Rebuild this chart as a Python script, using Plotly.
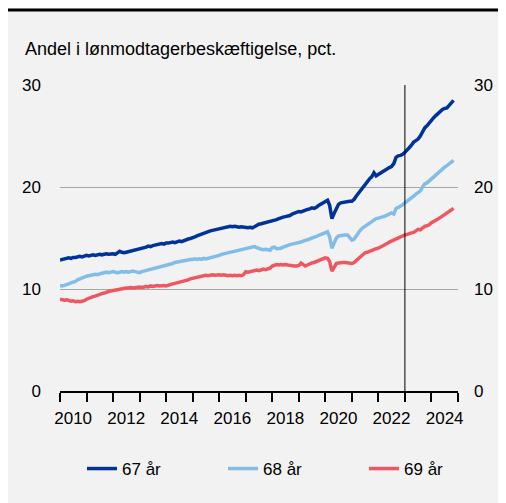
import pandas as pd
import plotly.graph_objects as go

PLOT_CONFIG = {
    "size": {"width": 498, "height": 495},
    "font": "Liberation Sans, Arial, sans-serif",
    "bg": "#f2f2f2",
}

# monthly shares, jan 2010 - nov 2024
age_67 = [
    12.85, 12.9, 12.95, 13.0, 13.05, 13.0, 13.1, 13.1, 13.15, 13.2, 13.15, 13.25,
    13.3, 13.25, 13.3, 13.35, 13.3, 13.35, 13.4, 13.35, 13.4, 13.45, 13.4, 13.45,
    13.45, 13.4, 13.5, 13.7, 13.6, 13.55, 13.6, 13.65, 13.7, 13.75, 13.8, 13.85,
    13.9, 13.95, 14.0, 14.1, 14.2, 14.15, 14.25, 14.3, 14.35, 14.4, 14.45, 14.4,
    14.5, 14.5, 14.55, 14.6, 14.55, 14.65, 14.7, 14.65, 14.75, 14.85, 14.9, 14.95,
    15.0, 15.1, 15.2, 15.3, 15.35, 15.45, 15.5, 15.6, 15.7, 15.75, 15.8, 15.85,
    15.9, 15.95, 16.0, 16.05, 16.1, 16.15, 16.1, 16.15, 16.1, 16.05, 16.1, 16.05,
    16.05, 16.0, 16.05, 16.0, 16.1, 16.25, 16.35, 16.4, 16.45, 16.55, 16.6, 16.65,
    16.7, 16.75, 16.8, 16.9, 17.0, 17.05, 17.1, 17.15, 17.2, 17.35, 17.45, 17.5,
    17.6, 17.55, 17.65, 17.7, 17.8, 17.85, 17.95, 17.9, 18.0, 18.2, 18.35, 18.5,
    18.65, 18.7, 18.2, 16.9, 17.4, 17.9, 18.3, 18.45, 18.5, 18.55, 18.6, 18.6,
    18.6, 18.8, 19.1, 19.4, 19.7, 20.0, 20.3, 20.6, 20.8, 21.0, 21.4, 21.1,
    21.25, 21.4, 21.5, 21.6, 21.75, 21.9, 22.0, 22.3, 22.9, 23.05, 23.1, 23.2,
    23.4, 23.6, 23.85, 24.1, 24.4, 24.55, 24.7, 25.0, 25.5, 25.8, 26.0, 26.3,
    26.6, 26.8, 27.0, 27.2, 27.45, 27.6, 27.7, 27.75, 28.0, 28.3, 28.5,
]
age_68 = [
    10.35, 10.3, 10.35, 10.4, 10.5, 10.6, 10.65, 10.75, 10.9, 11.0, 11.1, 11.2,
    11.25, 11.3, 11.35, 11.4, 11.45, 11.4, 11.5, 11.55, 11.6, 11.65, 11.6, 11.65,
    11.7, 11.65, 11.6, 11.65, 11.7, 11.65, 11.7, 11.65, 11.7, 11.75, 11.7, 11.65,
    11.6, 11.7, 11.75, 11.8, 11.85, 11.9, 11.95, 12.0, 12.1, 12.15, 12.2, 12.25,
    12.3, 12.35, 12.45, 12.5, 12.6, 12.65, 12.7, 12.75, 12.8, 12.85, 12.9, 12.9,
    12.9, 12.95, 12.9, 12.95, 12.9, 13.0, 12.95, 13.0, 13.05, 13.1, 13.15, 13.25,
    13.3, 13.4, 13.45, 13.5, 13.55, 13.6, 13.65, 13.7, 13.75, 13.8, 13.85, 13.9,
    13.95, 14.0, 14.05, 14.1, 14.15, 14.05, 13.95, 13.9, 13.85, 13.9, 13.85, 13.8,
    14.05, 14.1, 13.95, 13.95, 14.0, 14.1, 14.2, 14.25, 14.35, 14.4, 14.45, 14.5,
    14.5, 14.6, 14.7, 14.75, 14.85, 14.9, 15.0, 15.05, 15.15, 15.25, 15.35, 15.45,
    15.55, 15.6, 15.1, 14.0, 14.5, 15.0, 15.2, 15.25, 15.3, 15.3, 15.3, 15.05,
    14.8, 14.9, 15.2, 15.5, 15.8, 16.0, 16.15, 16.3, 16.5, 16.65, 16.8, 16.9,
    16.95, 17.0, 17.05, 17.15, 17.25, 17.35, 17.45, 17.35, 17.9, 18.0, 18.1, 18.25,
    18.45, 18.6, 18.75, 18.9, 19.1, 19.3, 19.5, 19.6, 20.0, 20.3, 20.4, 20.6,
    20.8, 21.0, 21.2, 21.4, 21.6, 21.75, 21.95, 22.1, 22.25, 22.4, 22.6,
]
age_69 = [
    9.0, 8.95, 8.9, 8.95, 8.85, 8.8, 8.85, 8.75, 8.8, 8.75, 8.8, 8.85,
    9.0, 9.1, 9.2, 9.25, 9.3, 9.4, 9.5, 9.55, 9.6, 9.7, 9.75, 9.8,
    9.85, 9.9, 9.95, 10.0, 10.05, 10.05, 10.1, 10.1, 10.15, 10.1, 10.15, 10.2,
    10.2, 10.15, 10.2, 10.25, 10.2, 10.3, 10.25, 10.3, 10.35, 10.3, 10.35, 10.35,
    10.3, 10.4, 10.45, 10.5, 10.55, 10.6, 10.7, 10.75, 10.8, 10.85, 10.9, 11.0,
    11.05, 11.1, 11.2, 11.25, 11.3, 11.3, 11.35, 11.3, 11.35, 11.4, 11.35, 11.4,
    11.4, 11.35, 11.4, 11.35, 11.3, 11.35, 11.3, 11.35, 11.3, 11.35, 11.3, 11.4,
    11.7, 11.65, 11.7, 11.75, 11.8, 11.85, 11.8, 11.9, 11.95, 11.9, 12.0, 12.05,
    12.25, 12.3, 12.4, 12.35, 12.4, 12.35, 12.4, 12.35, 12.3, 12.3, 12.25, 12.25,
    12.3, 12.55, 12.4, 12.25, 12.35, 12.5, 12.55, 12.6, 12.7, 12.8, 12.9, 12.95,
    13.05, 13.0, 12.7, 11.75, 12.2, 12.5, 12.55, 12.6, 12.6, 12.6, 12.55, 12.5,
    12.5, 12.6, 12.8, 13.0, 13.2, 13.4, 13.55, 13.6, 13.7, 13.8, 13.85, 13.95,
    14.0, 14.1, 14.2, 14.35, 14.45, 14.6, 14.7, 14.8, 14.95, 15.05, 15.15, 15.25,
    15.3, 15.35, 15.45, 15.5, 15.55, 15.7, 15.85, 15.8, 16.0, 16.15, 16.2, 16.3,
    16.5, 16.6, 16.7, 16.85, 17.0, 17.15, 17.3, 17.45, 17.6, 17.75, 17.9,
]
series_names = ["67 år", "68 år", "69 år"]
series_colors = ["#00339a", "#82bde8", "#ef5760"]
year_labels = ["2010", "2012", "2014", "2016", "2018", "2020", "2022", "2024"]
y_ticks = [0, 10, 20, 30]
marker_date = "2023-01-01"
title_text = "Andel i lønmodtagerbeskæftigelse, pct."

dates = pd.date_range("2010-01-01", periods=len(age_67), freq="MS")

# plot area in figure pixels (page adds an 8px body margin)
W = PLOT_CONFIG["size"]["width"]
H = PLOT_CONFIG["size"]["height"]
L, R, T, B = 52, 48, 77, 112
PW = W - L - R
PH = H - T - B
LEGEND_X = [74, 215, 356]  # left edge of each legend entry
LEGEND_Y = 461


def px_x(p):
    return (p - L) / PW


def px_y(p):
    return (T + PH - p) / PH


axis_font = {"family": PLOT_CONFIG["font"], "size": 17, "color": "#000000"}

fig = go.Figure()
legend_layout = {}
for i, (name, values, color) in enumerate(zip(series_names, [age_67, age_68, age_69], series_colors)):
    legend_id = "legend" if i == 0 else f"legend{i + 1}"
    fig.add_trace(
        go.Scatter(x=dates, y=values, mode="lines", name=name, legend=legend_id,
                   line={"color": color, "width": 3.5})
    )
    # one legend per series so the row never wraps
    legend_layout[legend_id] = {
        "orientation": "h",
        "x": px_x(LEGEND_X[i]),
        "xanchor": "left",
        "y": px_y(LEGEND_Y),
        "yanchor": "middle",
        "bgcolor": "rgba(0,0,0,0)",
        "font": axis_font,
    }

# dummy trace so the right axis is drawn
fig.add_trace(
    go.Scatter(x=[dates[0]], y=[0], yaxis="y2", mode="markers", marker={"opacity": 0},
               showlegend=False, hoverinfo="skip")
)

fig.update_layout(
    width=W,
    height=H,
    margin={"l": L, "r": R, "t": T, "b": B, "autoexpand": False},
    paper_bgcolor=PLOT_CONFIG["bg"],
    plot_bgcolor=PLOT_CONFIG["bg"],
    font=axis_font,
    xaxis={
        "type": "date",
        "range": ["2010-01-01", "2025-01-01"],
        "tickvals": [f"{y}-07-01" for y in year_labels],
        "ticktext": year_labels,
        "ticks": "",
        "ticklabelstandoff": 11,
        "showgrid": False,
        "zeroline": False,
        "showline": True,
        "linecolor": "#000000",
        "linewidth": 2,
        "minor": {
            "ticks": "outside",
            "tick0": "2010-01-01",
            "dtick": "M12",
            "ticklen": 9,
            "tickwidth": 2,
            "tickcolor": "#000000",
            "showgrid": False,
        },
    },
    yaxis={
        "range": [0, 30],
        "tickvals": y_ticks,
        "showgrid": True,
        "gridcolor": "#a6a6a6",
        "gridwidth": 1,
        "zeroline": False,
        "ticks": "",
        "ticklabelstandoff": 18,
    },
    yaxis2={
        "range": [0, 30],
        "tickvals": y_ticks,
        "overlaying": "y",
        "side": "right",
        "showgrid": False,
        "zeroline": False,
        "ticks": "",
        "ticklabelstandoff": 15,
    },
    showlegend=True,
    shapes=[
        # black top rule
        {"type": "line", "xref": "paper", "yref": "paper", "x0": px_x(0), "x1": px_x(500),
         "y0": px_y(2), "y1": px_y(2), "line": {"color": "#000000", "width": 3}},
        # vertical marker
        {"type": "line", "xref": "x", "yref": "y", "x0": marker_date, "x1": marker_date,
         "y0": 0, "y1": 30, "line": {"color": "#000000", "width": 1}},
    ],
    annotations=[
        {"text": title_text, "xref": "paper", "yref": "paper", "x": px_x(15), "y": px_y(41),
         "xanchor": "left", "yanchor": "middle", "showarrow": False,
         "font": {**axis_font, "size": 18}},
    ],
    **legend_layout,
)

fig.write_html("out.html")
